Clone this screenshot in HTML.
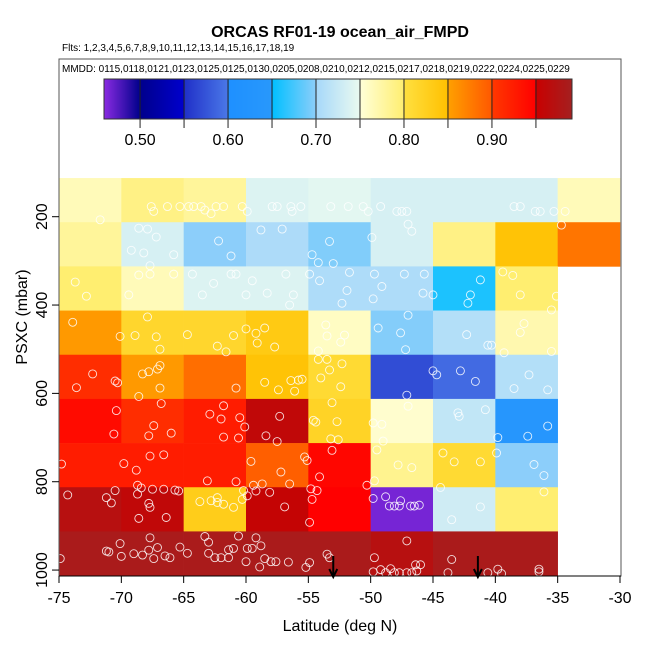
<!DOCTYPE html>
<html><head><meta charset="utf-8"><style>
html,body{margin:0;padding:0;background:#fff;}
svg{display:block;font-family:"Liberation Sans",Arial,sans-serif;}
</style></head><body>
<svg id="chart" width="650" height="650" viewBox="0 0 650 650" xmlns="http://www.w3.org/2000/svg">
<text x="340" y="37" text-anchor="middle" font-size="16" font-weight="bold">ORCAS RF01-19 ocean_air_FMPD</text>
<text x="62" y="51" font-size="10">Flts: 1,2,3,4,5,6,7,8,9,10,11,12,13,14,15,16,17,18,19</text>
<text x="62" y="72" font-size="10">MMDD: 0115,0118,0121,0123,0125,0125,0130,0205,0208,0210,0212,0215,0217,0218,0219,0222,0224,0225,0229</text>
<g id="colorbar"></g>
<g id="cells"></g>
<g id="points"></g>
<g id="arrows"></g>
<rect x="59" y="59" width="562" height="517" fill="none" stroke="#555" stroke-width="1"/>
<g id="axes"></g>
<text x="340" y="631" text-anchor="middle" font-size="16">Latitude (deg N)</text>
<text x="0" y="0" transform="translate(27,317) rotate(-90)" text-anchor="middle" font-size="16">PSXC (mbar)</text>
</svg>
<script>
const latEdges = [-75,-70,-65,-60,-55,-50,-45,-40,-35,-30];
const presEdges = [112.5,212.5,312.5,412.5,512.5,612.5,712.5,812.5,912.5,1012.5];
const row1 = [0.765,0.79,0.78,0.74,0.745,0.735,0.735,0.735,0.765];
const row2 = [0.78,0.735,0.70,0.705,0.696,0.735,0.79,0.845,0.88];
const row3 = [0.80,0.765,0.74,0.74,0.706,0.706,0.66,0.80,null];
const row4 = [0.855,0.815,0.815,0.835,0.76,0.697,0.71,0.77,null];
const row5 = [0.91,0.855,0.885,0.845,0.81,0.57,0.59,0.71,null];
const row6 = [0.94,0.91,0.925,0.96,0.82,0.755,0.72,0.64,null];
const row7 = [0.925,0.925,0.925,0.895,0.945,0.785,0.81,0.70,null];
const row8 = [0.97,0.96,0.83,0.955,0.95,0.465,0.73,0.80,null];
const row9 = [0.985,0.985,0.985,0.985,0.985,0.97,0.985,0.985,null];
const gridValues = [row1,row2,row3,row4,row5,row6,row7,row8,row9];
const xTicks = [-75,-70,-65,-60,-55,-50,-45,-40,-35,-30];
const yTicks = [200,400,600,800,1000];
const cbTicks = [0.5,0.6,0.7,0.8,0.9];
const cbTickLabels = ["0.50","0.60","0.70","0.80","0.90"];
const cbBreaks = [0.5,0.55,0.6,0.65,0.7,0.75,0.8,0.85,0.9,0.95];
const cbMin = 0.459, cbMax = 0.991;
const pointLat = [-71.7,-67.6,-67.4,-66.3,-65.3,-64.6,-64.2,-63.6,-63.3,-62.8,-62.4,-61.8,-60.3,-59.9,-57.9,-57.5,-56.4,-56.3,-55.6,-53.2,-51.8,-50.6,-50.2,-49.2,-47.9,-47.5,-47.1,-38.5,-38.0,-36.8,-36.4,-35.3,-34.4,
-68.6,-67.9,-67.2,-69.2,-68.2,-65.8,-67.7,-62.2,-61.2,-58.8,-57.1,-53.3,-54.7,-54.2,-53.0,-49.9,-47.0,-46.7,-34.7,
-73.7,-72.8,-69.4,-68.6,-67.7,-65.8,-64.3,-63.5,-62.6,-61.2,-60.8,-59.5,-60.0,-58.3,-56.8,-56.2,-56.5,-54.9,-54.1,-51.7,-51.9,-52.3,-49.7,-49.1,-49.8,-47.3,-45.7,-45.8,-45.0,-41.2,-42.0,-42.2,-39.4,-38.6,-38.0,-35.1,-35.5,
-73.9,-70.1,-68.9,-67.9,-67.2,-66.9,-64.7,-62.3,-61.6,-61.0,-60.0,-59.2,-59.1,-58.5,-57.7,-53.6,-53.5,-52.1,-52.4,-54.2,-49.4,-47.6,-47.2,-47.0,-42.3,-40.6,-40.3,-37.7,-38.0,-39.3,-35.5,
-72.3,-73.6,-70.5,-70.3,-68.6,-68.3,-67.8,-67.1,-66.9,-66.9,-60.8,-58.5,-57.4,-56.4,-56.1,-55.8,-55.5,-54.2,-53.5,-53.3,-54.0,-52.3,-52.4,-45.0,-44.7,-42.8,-41.6,-47.1,-38.5,-37.3,-35.8,
-70.4,-70.6,-67.4,-66.8,-67.8,-66.0,-62.9,-62.0,-61.8,-60.5,-60.1,-61.8,-60.6,-57.3,-58.4,-57.5,-54.6,-54.4,-52.7,-53.1,-53.2,-52.6,-53.1,-49.8,-49.1,-47.0,-43.0,-42.9,-40.8,-39.8,-37.4,-35.8,
-74.8,-69.8,-68.8,-67.7,-66.6,-63.1,-60.8,-59.6,-57.2,-56.5,-55.3,-55.1,-54.1,-50.3,-49.5,-49.0,-49.7,-47.8,-46.7,-44.2,-43.3,-41.2,-39.9,-36.9,-36.1,-36.1,
-74.3,-71.2,-70.8,-70.5,-68.7,-68.7,-68.4,-67.5,-67.8,-67.7,-66.6,-65.7,-65.4,-68.6,-66.4,-63.7,-62.8,-62.3,-62.3,-61.8,-61.0,-60.3,-59.9,-60.2,-59.2,-58.7,-59.4,-58.1,-56.9,-54.8,-54.3,-54.7,-54.9,-49.8,-48.8,-48.5,-48.1,-47.7,-47.6,-46.8,-46.5,-46.1,-44.4,-43.5,-41.2,
-74.9,-71.2,-71.0,-70.1,-70.0,-69.0,-68.3,-67.8,-67.7,-67.4,-67.1,-66.5,-66.1,-65.3,-64.7,-63.3,-63.0,-63.0,-62.5,-62.0,-61.4,-61.0,-61.4,-60.6,-59.9,-59.5,-59.2,-58.8,-60.0,-58.9,-58.5,-58.0,-57.6,-56.6,-55.2,-54.9,-53.5,-53.3,-49.7,-49.8,-49.2,-48.8,-48.4,-48.1,-47.7,-47.1,-46.7,-46.3,-46.0,-46.4,-47.1,-43.5,-43.8,-40.6,-39.8,-39.5,-36.5,-36.5];
const pointPres = [207,177,188,177,177,177,177,177,185,193,177,177,177,188,177,177,177,188,177,177,177,177,188,177,188,188,188,177,177,188,188,188,188,
226,228,246,276,282,286,311,255,289,230,228,256,286,304,306,247,217,233,219,
348,380,377,332,330,330,330,377,351,330,330,345,377,373,330,377,400,330,345,326,367,396,330,358,386,330,330,373,377,343,377,396,325,333,377,380,411,
439,471,469,427,472,500,467,493,506,469,454,464,486,452,495,445,470,468,484,504,452,463,501,423,467,491,491,442,462,508,505,
556,587,572,576,607,556,551,545,537,588,588,575,592,571,595,570,568,523,523,547,565,533,585,549,558,549,573,604,589,558,592,
639,692,673,623,696,690,647,658,628,655,676,699,701,652,696,709,661,665,664,621,703,705,729,667,670,629,644,652,637,700,697,674,
760,759,774,742,739,798,800,754,778,805,744,752,789,808,728,708,798,762,768,735,755,755,735,761,786,823,
830,836,848,820,808,828,814,817,849,858,817,819,821,883,881,845,843,836,847,851,858,840,832,820,821,805,808,824,857,816,820,840,892,838,834,855,855,855,843,855,855,853,813,886,857,
974,957,959,940,969,963,966,955,927,974,949,968,972,948,962,924,937,962,972,972,954,951,972,923,951,951,927,945,981,993,974,981,981,982,994,983,964,972,972,1004,999,1006,997,1006,1006,1006,1006,1002,988,988,934,976,1006,1006,998,1008,998,1004];
const arrowLat = [-53.0,-41.4];

const NS='http://www.w3.org/2000/svg';
function xS(lat){return 59 + (lat+75)*561/45;}
function yS(p){return 216.7 + (p-200)*0.4417;}
function cbX(v){return 104 + (v-cbMin)*(572-104)/(cbMax-cbMin);}
const stops=[[0.459,'#8a2be2'],[0.5,'#00008b'],[0.55,'#0000cd'],[0.5501,'#2030c8'],[0.6,'#4a78e8'],[0.6001,'#1e90ff'],[0.65,'#2898fc'],[0.6501,'#00bfff'],[0.7,'#8ccefa'],[0.7001,'#a6d8fa'],[0.75,'#eafaf0'],[0.7501,'#ffffd8'],[0.8,'#ffee70'],[0.8001,'#ffe040'],[0.85,'#ffc000'],[0.8501,'#ffa000'],[0.9,'#ff5800'],[0.9001,'#ff3800'],[0.95,'#ff0000'],[0.9501,'#c80000'],[0.991,'#a52020']];
function hex(c){return [parseInt(c.substr(1,2),16),parseInt(c.substr(3,2),16),parseInt(c.substr(5,2),16)];}
function colorFor(v){
  if(v<=stops[0][0]) return stops[0][1];
  for(let i=1;i<stops.length;i++){
    if(v<=stops[i][0]){
      const a=hex(stops[i-1][1]),b=hex(stops[i][1]);
      const t=(v-stops[i-1][0])/(stops[i][0]-stops[i-1][0]);
      return 'rgb('+a.map((x,k)=>Math.round(x+(b[k]-x)*t)).join(',')+')';
    }
  }
  return stops[stops.length-1][1];
}
function mk(tag,attrs,parent){const e=document.createElementNS(NS,tag);for(const k in attrs)e.setAttribute(k,attrs[k]);parent.appendChild(e);return e;}

const cb=document.getElementById('colorbar');
for(let x=104;x<572;x++){
  const v=cbMin+(x+0.5-104)*(cbMax-cbMin)/(572-104);
  const r=mk('rect',{x:x,y:79,width:1.2,height:40,fill:colorFor(v)},cb);
  
  
}
cbBreaks.forEach(b=>{
  const l=mk('line',{x1:cbX(b),x2:cbX(b),y1:79,y2:128,stroke:'#222','stroke-width':1},cb);
  
  
});
const cbf=mk('rect',{x:104,y:79,width:468,height:40,fill:'none',stroke:'#333','stroke-width':1},cb);


cbTicks.forEach((t,i)=>{
  const tx=mk('text',{x:cbX(t),y:145,'text-anchor':'middle','font-size':16},cb);
  tx.textContent=cbTickLabels[i];
  
  
});

const cells=document.getElementById('cells');
gridValues.forEach((row,ri)=>{
  row.forEach((v,ci)=>{
    if(v===null) return;
    const x0=xS(latEdges[ci]),x1=xS(latEdges[ci+1]),y0=yS(presEdges[ri]),y1=yS(presEdges[ri+1]);
    const r=mk('rect',{x:x0,y:y0,width:x1-x0+0.3,height:y1-y0+0.3,fill:colorFor(v)},cells);
    
    
  });
});

const pts=document.getElementById('points');
pointLat.forEach((lat,i)=>{
  const c=mk('circle',{cx:xS(lat),cy:yS(pointPres[i]),r:4,fill:'none',stroke:'#fff','stroke-opacity':0.85,'stroke-width':0.9},pts);
  
  
});

const ar=document.getElementById('arrows');
arrowLat.forEach(lat=>{
  const x=xS(lat);
  const g=mk('g',{},ar);
  
  
  mk('line',{x1:x,x2:x,y1:556,y2:577,stroke:'#000','stroke-width':2},g);
  mk('path',{d:`M${x-4},${569} L${x},${577} L${x+4},${569}`,fill:'none',stroke:'#000','stroke-width':2},g);
});

const ax=document.getElementById('axes');
xTicks.forEach(t=>{
  const x=xS(t);
  const l=mk('line',{x1:x,x2:x,y1:576,y2:583,stroke:'#000'},ax);
  
  
  const tx=mk('text',{x:x,y:603,'text-anchor':'middle','font-size':16},ax);
  tx.textContent=String(t);
  
  
});
yTicks.forEach(t=>{
  const y=yS(t);
  const l=mk('line',{x1:52,x2:59,y1:y,y2:y,stroke:'#000'},ax);
  
  
  const tx=mk('text',{x:0,y:0,transform:`translate(47,${y}) rotate(-90)`,'text-anchor':'middle','font-size':16},ax);
  tx.textContent=String(t);
  
  
});
mk('line',{x1:59,x2:621,y1:576,y2:576,stroke:'#000'},ax);
</script>
</body></html>
